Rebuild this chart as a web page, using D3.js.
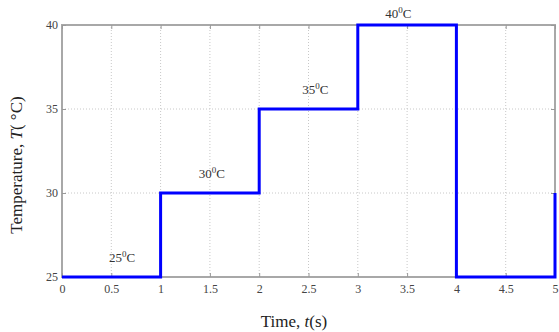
<!DOCTYPE html>
<html>
<head>
<meta charset="utf-8">
<script src="https://cdn.jsdelivr.net/npm/d3@7"></script>
<style>
body{margin:0;background:#fff;}
text{font-family:"Liberation Serif","DejaVu Serif",serif;}
</style>
</head>
<body>
<svg width="559" height="332"></svg>
<script>
// step profile: temperature held over each time interval
var stepTimes = [0, 1, 2, 3, 4, 5];
var stepTemps = [25, 30, 35, 40, 25, 30];
var xTicks = [0, 0.5, 1, 1.5, 2, 2.5, 3, 3.5, 4, 4.5, 5];
var yTicks = [25, 30, 35, 40];
var labelTimes = [0.61, 1.52, 2.57, 3.41];
var labelTemps = [25.9, 30.9, 35.9, 40.4];
var labelTexts = ["25", "30", "35", "40"];

var margins = {left:62, right:4, top:25, bottom:55};
var screen = {width:559, height:332};

var svg = d3.select("svg");
var xScale = d3.scaleLinear().domain([0,5]).range([margins.left, screen.width-margins.right]);
var yScale = d3.scaleLinear().domain([25,40]).range([screen.height-margins.bottom, margins.top]);

// grid
svg.append("g").selectAll("line")
    .data(xTicks.slice(1,-1))
    .enter().append("line")
    .attr("x1",function(d){return xScale(d);})
    .attr("x2",function(d){return xScale(d);})
    .attr("y1",yScale(25)).attr("y2",yScale(40))
    .attr("stroke","#c8c8c8").attr("stroke-dasharray","1,2");
svg.append("g").selectAll("line")
    .data(yTicks.slice(1,-1))
    .enter().append("line")
    .attr("y1",function(d){return yScale(d);})
    .attr("y2",function(d){return yScale(d);})
    .attr("x1",xScale(0)).attr("x2",xScale(5))
    .attr("stroke","#c8c8c8").attr("stroke-dasharray","1,2");

// frame
svg.append("rect")
    .attr("x",xScale(0)).attr("y",yScale(40))
    .attr("width",xScale(5)-xScale(0)).attr("height",yScale(25)-yScale(40))
    .attr("fill","none").attr("stroke","#a8a8a8").attr("stroke-width",2);

// axes (inward ticks)
var bottomAxis = d3.axisBottom(xScale).tickValues(xTicks).tickSize(-4).tickPadding(7)
    .tickFormat(function(d){return d3.format("")(d);});
var topAxis = d3.axisTop(xScale).tickValues(xTicks).tickSize(-4).tickFormat("");
var leftAxis = d3.axisLeft(yScale).tickValues(yTicks).tickSize(-4).tickPadding(4);
var rightAxis = d3.axisRight(yScale).tickValues(yTicks).tickSize(-4).tickFormat("");

function styleAxis(g){
    g.select(".domain").remove();
    g.selectAll(".tick line").attr("stroke","#999");
    g.selectAll(".tick text").attr("fill","#444").style("font-size","12px")
        .style("font-family","'Liberation Serif',serif");
}
svg.append("g").attr("transform","translate(0,"+yScale(25)+")").call(bottomAxis).call(styleAxis);
svg.append("g").attr("transform","translate(0,"+yScale(40)+")").call(topAxis).call(styleAxis);
svg.append("g").attr("transform","translate("+xScale(0)+",0)").call(leftAxis).call(styleAxis);
svg.append("g").attr("transform","translate("+xScale(5)+",0)").call(rightAxis).call(styleAxis);

// step line
var line = d3.line()
    .x(function(d){return xScale(d[0]);})
    .y(function(d){return yScale(d[1]);})
    .curve(d3.curveStepAfter);
var pts = stepTimes.map(function(t,i){return [t, stepTemps[i]];});
svg.append("path")
    .datum(pts)
    .attr("d",line)
    .attr("fill","none").attr("stroke","#0000ff").attr("stroke-width",3);

// step labels
var lab = svg.append("g").selectAll("text")
    .data(labelTexts)
    .enter().append("text")
    .attr("x",function(d,i){return xScale(labelTimes[i]);})
    .attr("y",function(d,i){return yScale(labelTemps[i]);})
    .attr("text-anchor","middle")
    .attr("fill","#333")
    .style("font-size","13px");
lab.append("tspan").text(function(d){return d;});
lab.append("tspan").attr("dy",-5).style("font-size","9px").text("0");
lab.append("tspan").attr("dy",5).text("C");

// axis titles
var xt = svg.append("text")
    .attr("x",294).attr("y",327)
    .attr("text-anchor","middle").attr("fill","#222").style("font-size","17px");
xt.append("tspan").text("Time, ");
xt.append("tspan").style("font-style","italic").text("t");
xt.append("tspan").text("(s)");

var yt = svg.append("text")
    .attr("transform","translate(22,"+165+") rotate(-90)")
    .attr("text-anchor","middle").attr("fill","#222").style("font-size","17px");
yt.append("tspan").text("Temperature, ");
yt.append("tspan").style("font-style","italic").text("T");
yt.append("tspan").text("( °C)");
</script>
</body>
</html>
